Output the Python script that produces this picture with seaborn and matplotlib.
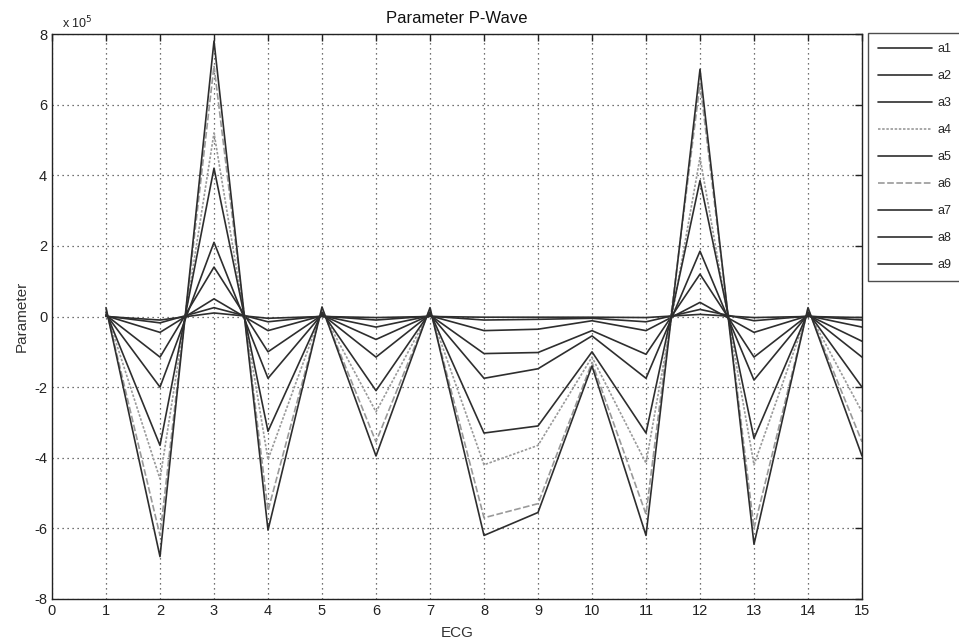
import matplotlib
matplotlib.use("Agg")
import matplotlib.pyplot as plt
import seaborn as sns
import pandas as pd

ecg = [1, 2, 3, 4, 5, 6, 7, 8, 9, 10, 11, 12, 13, 14, 15]

a1 = [0.00, -0.10, 0.10, -0.05, 0.00, -0.03, 0.00, -0.02, -0.02, -0.02, -0.03, 0.06, -0.03, 0.00, -0.03]
a2 = [0.01, -0.18, 0.25, -0.15, 0.01, -0.10, 0.01, -0.10, -0.08, -0.05, -0.15, 0.20, -0.12, 0.01, -0.10]
a3 = [0.02, -0.45, 0.50, -0.40, 0.02, -0.30, 0.02, -0.40, -0.36, -0.12, -0.40, 0.40, -0.45, 0.02, -0.30]
a4 = [0.15, -4.60, 5.20, -4.05, 0.15, -2.70, 0.15, -4.20, -3.65, -1.15, -4.15, 4.50, -4.20, 0.15, -2.70]
a5 = [0.04, -1.15, 1.40, -1.00, 0.04, -0.65, 0.04, -1.05, -1.02, -0.40, -1.07, 1.20, -1.15, 0.04, -0.70]
a6 = [0.22, -6.20, 7.10, -5.50, 0.22, -3.55, 0.22, -5.70, -5.30, -1.30, -5.60, 6.60, -6.00, 0.22, -3.55]
a7 = [0.06, -2.00, 2.10, -1.75, 0.06, -1.15, 0.06, -1.75, -1.48, -0.55, -1.75, 1.85, -1.80, 0.06, -1.15]
a8 = [0.12, -3.65, 4.20, -3.25, 0.12, -2.10, 0.12, -3.30, -3.10, -1.00, -3.30, 3.85, -3.45, 0.12, -2.00]
a9 = [0.25, -6.80, 7.80, -6.05, 0.27, -3.95, 0.25, -6.20, -5.55, -1.40, -6.20, 7.00, -6.45, 0.25, -3.95]

series_names = ["a1", "a2", "a3", "a4", "a5", "a6", "a7", "a8", "a9"]
series_vals = [a1, a2, a3, a4, a5, a6, a7, a8, a9]

x_ticks = list(range(0, 16))
y_ticks = [-8, -6, -4, -2, 0, 2, 4, 6, 8]

rows = []
for name, vals in zip(series_names, series_vals):
    for xv, yv in zip(ecg, vals):
        rows.append({"ECG": xv, "Parameter": yv, "series": name})
df = pd.DataFrame(rows)

sns.set_style("white")
plt.rcParams["font.family"] = ["Liberation Sans", "DejaVu Sans"]
plt.rcParams["axes.unicode_minus"] = False

dark = "#2e2e2e"
light = "#9a9a9a"
palette = {n: dark for n in series_names}
palette["a4"] = light
palette["a6"] = light
dashes = {n: "" for n in series_names}
dashes["a4"] = (1.5, 1.0)
dashes["a6"] = (4, 1.5)

fig = plt.figure(figsize=(9.59, 6.44), dpi=100)
ax = fig.add_axes([52 / 959, 1 - 599 / 644, (862 - 52) / 959, (599 - 34) / 644])

sns.lineplot(data=df, x="ECG", y="Parameter", hue="series", style="series",
             palette=palette, dashes=dashes, linewidth=1.2, ax=ax,
             hue_order=series_names, style_order=series_names)

ax.set_xlim(0, 15)
ax.set_ylim(-8, 8)
ax.set_xticks(x_ticks)
ax.set_yticks(y_ticks)
ax.grid(True, linestyle=(0, (1, 3)), color="#444444", linewidth=0.9)
for s in ax.spines.values():
    s.set_visible(True)
    s.set_color("#222222")
    s.set_linewidth(1.0)
ax.tick_params(direction="in", length=5, top=True, right=True,
               labelsize=10.5, colors="#222222", width=1.0)

ax.set_title("Parameter P-Wave", fontsize=12, pad=8, color="#111111")
ax.set_xlabel("ECG", fontsize=11, color="#333333", labelpad=6)
ax.set_ylabel("Parameter", fontsize=11, color="#333333", labelpad=4)
ax.text(0.012, 1.005, r"x 10$^{5}$", transform=ax.transAxes, fontsize=9,
        ha="left", va="bottom", color="#222222")

handles, labels = ax.get_legend_handles_labels()
ax.get_legend().remove()
leg = fig.legend(handles, labels, loc="upper left",
                 bbox_to_anchor=(868 / 959, 1 - 33 / 644),
                 fontsize=9, frameon=True, fancybox=False,
                 labelspacing=1.2, handlelength=4.3, handletextpad=0.5,
                 borderpad=0.8, borderaxespad=0)
leg.get_frame().set_edgecolor("#222222")
leg.get_frame().set_linewidth(1.0)

fig.savefig("out.png", dpi=100)
